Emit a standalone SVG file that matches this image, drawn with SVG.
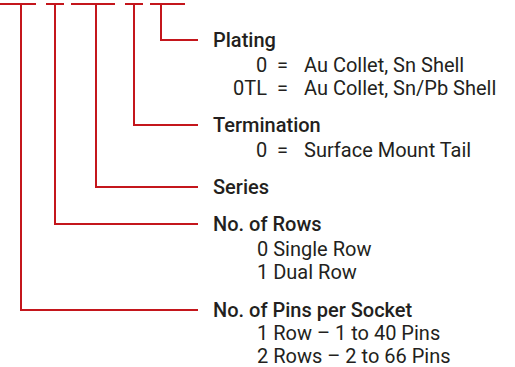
<svg xmlns="http://www.w3.org/2000/svg" width="515" height="367" viewBox="0 0 515 367">
<style>
.c{fill:none;stroke:#c4161c;stroke-width:2;stroke-linecap:butt;stroke-linejoin:miter}
text{font-family:Roboto,"Liberation Sans",sans-serif;font-size:20px;fill:#231f20}
.t{font-weight:500}
</style>
<rect width="515" height="367" fill="#fff"/>
<g id="connectors">
<path class="c" d="M0 4H36M21 4V310H198"/>
<path class="c" d="M46 4H64M55 4V224H198"/>
<path class="c" d="M71 4H115M96 4V187H198"/>
<path class="c" d="M125 4H143M134 4V125H198"/>
<path class="c" d="M150 4H185M161 4V40H198"/>
</g>
<g id="plating">
<text class="t" x="213" y="47">Plating</text>
<text x="256" y="71.5">0</text>
<text x="277" y="71.5">=</text>
<text x="304" y="71.5">Au Collet, Sn Shell</text>
<text x="233" y="94.5">0TL</text>
<text x="277" y="94.5">=</text>
<text x="304" y="94.5">Au Collet, Sn/Pb Shell</text>
</g>
<g id="termination">
<text class="t" x="213" y="132">Termination</text>
<text x="256" y="156.5">0</text>
<text x="277" y="156.5">=</text>
<text x="304" y="156.5">Surface Mount Tail</text>
</g>
<g id="series">
<text class="t" x="213" y="194">Series</text>
</g>
<g id="rows">
<text class="t" x="213" y="231">No. of Rows</text>
<text x="257" y="256">0 Single Row</text>
<text x="257" y="279">1 Dual Row</text>
</g>
<g id="pins">
<text class="t" x="213" y="317">No. of Pins per Socket</text>
<text x="257" y="340">1 Row – 1 to 40 Pins</text>
<text x="257" y="363">2 Rows – 2 to 66 Pins</text>
</g>
</svg>
